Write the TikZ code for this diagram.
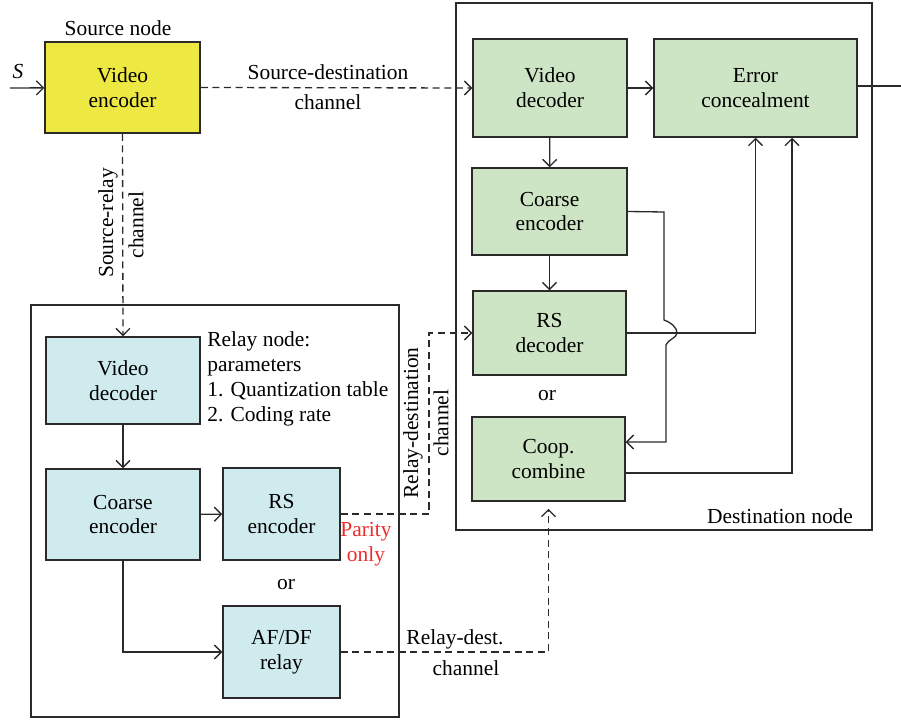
\documentclass[tikz,border=0pt]{standalone}
\usepackage{fontspec}
\setmainfont{Liberation Serif}
\usetikzlibrary{calc,positioning,arrows.meta}
\definecolor{encyellow}{HTML}{EEE843}
\definecolor{relayblue}{HTML}{D0EBEE}
\definecolor{destgreen}{HTML}{CDE5C4}
\definecolor{parityred}{HTML}{EE2A2A}
\definecolor{edgegray}{HTML}{2A2A2A}

\begin{document}
\begin{tikzpicture}[x=0.02cm,y=-0.02cm,line width=0.75pt,draw=edgegray,
  every node/.style={font=\fontsize{12.2}{14.2}\selectfont},
  blk/.style={draw=edgegray,line width=0.85pt,align=center,inner sep=0pt},
  arr/.style={-{Straight Barb[length=4pt,width=8pt]}},
  dsh/.style={dash pattern=on 4pt off 2.6pt},
  lbl/.style={inner sep=1pt,align=center}
]
\useasboundingbox (0,0) rectangle (901,719);

\draw[line width=0.85pt] (31,305) rectangle (399,717);
\draw[line width=0.85pt] (456,3) rectangle (872,530);

\node[blk,fill=encyellow,minimum width=3.1cm,minimum height=1.82cm] (srcenc) at (122.5,87.5) {Video\\encoder};
\node[lbl] (srclab) at (118,28) {Source node};

\node[blk,fill=relayblue,minimum width=3.08cm,minimum height=1.74cm] (rvdec) at (123,380.5) {Video\\decoder};
\node[blk,fill=relayblue,minimum width=3.08cm,minimum height=1.82cm] (rcenc) at (123,514.5) {Coarse\\encoder};
\node[blk,fill=relayblue,minimum width=2.34cm,minimum height=1.84cm] (rsenc) at (281.5,514) {RS\\encoder};
\node[blk,fill=relayblue,minimum width=2.34cm,minimum height=1.84cm] (afdf) at (281.5,652) {AF/DF\\relay};
\node[lbl,anchor=north west,align=left] (relaylab) at (205,329) {Relay node:\\parameters\\1. Quantization table\\2. Coding rate};
\node[lbl,text=parityred] (parity) at (366,544) {Parity\\only};
\node[lbl] (ora) at (286,585) {or};

\node[blk,fill=destgreen,minimum width=3.08cm,minimum height=1.96cm] (dvdec) at (550,88) {Video\\decoder};
\node[blk,fill=destgreen,minimum width=4.06cm,minimum height=1.96cm] (errc) at (755.5,88) {Error\\concealment};
\node[blk,fill=destgreen,minimum width=3.1cm,minimum height=1.74cm] (dcenc) at (549.5,211.5) {Coarse\\encoder};
\node[blk,fill=destgreen,minimum width=3.06cm,minimum height=1.68cm] (rsdec) at (549.5,333) {RS\\decoder};
\node[blk,fill=destgreen,minimum width=3.06cm,minimum height=1.68cm] (coop) at (548.5,459) {Coop.\\combine};
\node[lbl] (orb) at (547,396) {or};
\node[lbl] (destlab) at (780,516) {Destination node};

\coordinate (sin) at (10,88);
\coordinate (sout) at (901,86);
\coordinate (rdbend) at (429,514);
\coordinate (cbend) at (664,212);

\node[lbl,font=\fontsize{12.2}{14.2}\selectfont\itshape] (slab) at (18,72) {S};
\draw[arr] (sin) -- (srcenc);

\draw[arr,dsh] (srcenc.east) -- (dvdec.west);
\node[lbl] (sdlab1) at (328,72) {Source-destination};
\node[lbl] (sdlab2) at (328,102) {channel};

\draw[arr,dsh] (srcenc.south) -- (rvdec.north);
\node[lbl,rotate=90] (srlab1) at (108,223) {Source-relay};
\node[lbl,rotate=90] (srlab2) at (136,225) {channel};

\draw[arr] (rvdec) -- (rcenc);
\draw[arr] (rcenc) -- (rsenc);
\draw[arr] (rcenc.south) |- (afdf.west);

\draw[arr,dsh] (rsenc.east) -- (rdbend) |- (rsdec.west);
\node[lbl,rotate=90] (rdlab1) at (413,423) {Relay-destination};
\node[lbl,rotate=90] (rdlab2) at (441,423) {channel};

\draw[arr,dsh,shorten >=4pt] (afdf.east) -| (coop.south);
\node[lbl] (rdslab1) at (455,639) {Relay-dest.};
\node[lbl] (rdslab2) at (466,668) {channel};

\draw[arr] (dvdec) -- (errc);
\draw (errc.east |- sout) -- (sout);
\draw[arr] (dvdec) -- (dcenc);
\draw[arr] (dcenc) -- (rsdec);

\draw[arr] (rsdec.east) -| (errc.south);
\draw[arr] ($(coop.east)+(0,14)$) -| ($(errc.south)+(36.5,0)$);
\draw[arr] (dcenc.east) -- (cbend) -- (664,320)
  .. controls (672,323) and (677,328) .. (677,333)
  .. controls (677,338) and (667,340) .. (666,345)
  |- ($(coop.east)+(0,-17)$);
\end{tikzpicture}
\end{document}
